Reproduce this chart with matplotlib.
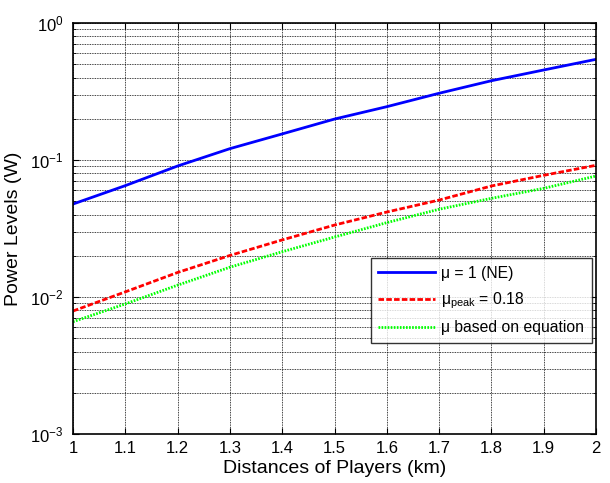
import matplotlib
matplotlib.use("Agg")
import matplotlib.pyplot as plt
from matplotlib.ticker import LogLocator, NullFormatter

plt.rcParams['font.family'] = ['Liberation Sans', 'DejaVu Sans']
plt.rcParams['mathtext.fontset'] = 'custom'
plt.rcParams['mathtext.rm'] = 'Liberation Sans'
plt.rcParams['mathtext.default'] = 'regular'

distance = [1.0, 1.1, 1.2, 1.3, 1.4, 1.5, 1.6, 1.7, 1.8, 1.9, 2.0]
power_ne = [0.0477, 0.065, 0.0904, 0.121, 0.155, 0.199, 0.245, 0.307, 0.379, 0.454, 0.543]
power_peak = [0.0079, 0.0109, 0.0151, 0.0201, 0.0261, 0.0335, 0.0417, 0.051, 0.0646, 0.0773, 0.0915]
power_eq = [0.0066, 0.0089, 0.0122, 0.0165, 0.0214, 0.0274, 0.0349, 0.0437, 0.0525, 0.0621, 0.0764]

xtick_labels = ['1', '1.1', '1.2', '1.3', '1.4', '1.5', '1.6', '1.7', '1.8', '1.9', '2']
labels = ['μ = 1 (NE)', 'μ$_{peak}$ = 0.18', 'μ based on equation']

fig = plt.figure(figsize=(6.1, 4.83), dpi=100)
ax = fig.add_axes([73/610, 1-434/483, (596-73)/610, (434-23)/483])

ax.semilogy(distance, power_ne, color=(0, 0, 1), lw=2, ls='-', label=labels[0])
ax.semilogy(distance, power_peak, color=(1, 0, 0), lw=2, ls=(0, (2.0, 0.8)), label=labels[1])
ax.semilogy(distance, power_eq, color=(0, 1, 0), lw=2, ls=(0, (0.6, 0.5)), label=labels[2])

ax.set_xlim(1, 2)
ax.set_ylim(1e-3, 1)
ax.set_xticks(distance)
ax.set_xticklabels(xtick_labels)
ax.yaxis.set_major_locator(LogLocator(base=10, numticks=10))
ax.yaxis.set_minor_locator(LogLocator(base=10, subs=range(2, 10), numticks=20))
ax.yaxis.set_minor_formatter(NullFormatter())

ax.grid(True, which='major', axis='both', color='black', ls=(0, (1, 1)), lw=0.6)
ax.grid(True, which='minor', axis='y', color='black', ls=(0, (1, 1)), lw=0.6)

ax.tick_params(which='both', direction='in', top=True, right=True, labelsize=12)
ax.tick_params(axis='x', pad=5)
ax.tick_params(axis='y', pad=7)
ax.tick_params(which='major', length=4)
ax.tick_params(which='minor', length=2)
for s in ax.spines.values():
    s.set_linewidth(1.2)

ax.set_xlabel('Distances of Players (km)', fontsize=14, labelpad=3)
ax.set_ylabel('Power Levels (W)', fontsize=14, labelpad=6)

leg = ax.legend(loc='lower right', bbox_to_anchor=(592/610, 1-343/483), bbox_transform=fig.transFigure,
                fontsize=11.3, frameon=True, fancybox=False, edgecolor='black',
                handlelength=3.6, borderaxespad=0, labelspacing=0.6, handletextpad=0.4,
                borderpad=0.5)
leg.get_frame().set_linewidth(1.0)

fig.savefig('out.png', dpi=100)
